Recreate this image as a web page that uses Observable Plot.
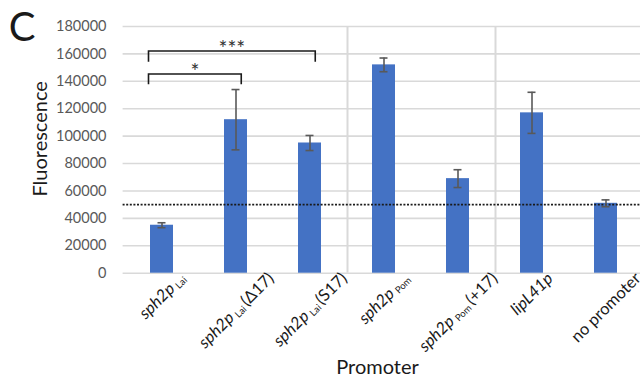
<!DOCTYPE html>
<html><head><meta charset="utf-8">
<script src="https://cdn.jsdelivr.net/npm/d3@7"></script>
<script src="https://cdn.jsdelivr.net/npm/@observablehq/plot@0.6"></script>
<style>
html,body{margin:0;padding:0;background:#fff;overflow:hidden;}
svg{display:block}
</style></head><body>
<div id="chart"></div>
<script>
// ---- data ----
const categories = ["sph2pLai", "sph2pLai (Δ17)", "sph2pLai (S17)", "sph2pPom", "sph2pPom (+17)", "lipL41p", "no promoter"];
// label pieces: [text, style]  (i = italic, sub = subscript, "" = plain)
const labelParts = [
  [["sph2p", "i"], ["Lai", "sub"]],
  [["sph2p", "i"], ["Lai", "sub"], ["(Δ17)", ""]],
  [["sph2p", "i"], ["Lai", "sub"], ["(S17)", ""]],
  [["sph2p", "i"], ["Pom", "sub"]],
  [["sph2p", "i"], ["Pom", "sub"], ["(+17)", ""]],
  [["lipL41p", "i"]],
  [["no promoter", ""]]
];
const means = [35000, 112000, 95000, 152000, 69000, 117000, 51000];
const errors = [1800, 22000, 5500, 5000, 6500, 15000, 2500];
const yTicks = [0, 20000, 40000, 60000, 80000, 100000, 120000, 140000, 160000, 180000];
const threshold = 50000;
const groupBreaks = [[2, 3], [4, 5]];
const bracketFrom = [0, 0];
const bracketTo = [1, 2];
const bracketTop = [145000, 161800];
const bracketEnd = [137500, 154000];
const bracketLabel = ["*", "***"];

const data = categories.map((c, i) => ({cat: c, mean: means[i], err: errors[i]}));
const ns = "http://www.w3.org/2000/svg";

function getBw(sx) {
  let bw = sx.bandwidth;
  if (typeof bw === "function") bw = bw();
  return bw > 0 ? bw : 0;
}

function separators(index, scales, values, dims, context) {
  const doc = context.document;
  const g = doc.createElementNS(ns, "g");
  const sx = scales.x, sy = scales.y, bw = getBw(sx);
  for (const [a, b] of groupBreaks) {
    const x = (sx(categories[a]) + bw + sx(categories[b])) / 2 + 1;
    const l = doc.createElementNS(ns, "line");
    l.setAttribute("x1", x); l.setAttribute("x2", x);
    l.setAttribute("y1", sy(180000)); l.setAttribute("y2", sy(0));
    l.setAttribute("stroke", "#d9d9d9"); l.setAttribute("stroke-width", 2);
    g.append(l);
  }
  return g;
}

function brackets(index, scales, values, dims, context) {
  const doc = context.document;
  const g = doc.createElementNS(ns, "g");
  const sx = scales.x, sy = scales.y, bw = getBw(sx);
  bracketFrom.forEach((f, i) => {
    const x1 = sx(categories[f]) - 1.5;
    const x2 = sx(categories[bracketTo[i]]) + bw * 0.75;
    const yt = sy(bracketTop[i]), ye = sy(bracketEnd[i]);
    const p = doc.createElementNS(ns, "path");
    p.setAttribute("d", `M${x1},${ye}V${yt}H${x2}V${ye}`);
    p.setAttribute("fill", "none"); p.setAttribute("stroke", "#1a1a1a"); p.setAttribute("stroke-width", 1.6);
    g.append(p);
    const t = doc.createElementNS(ns, "text");
    t.setAttribute("x", (x1 + x2) / 2); t.setAttribute("y", yt + 5);
    t.setAttribute("text-anchor", "middle"); t.setAttribute("font-size", 21);
    t.setAttribute("fill", "#333");
    t.textContent = bracketLabel[i];
    g.append(t);
  });
  return g;
}

function xLabels(index, scales, values, dims, context) {
  const doc = context.document;
  const g = doc.createElementNS(ns, "g");
  const sx = scales.x, bw = getBw(sx);
  categories.forEach((c, i) => {
    const t = doc.createElementNS(ns, "text");
    t.setAttribute("class", "xlabel");
    t.setAttribute("data-cx", sx(c) + bw / 2);
    t.setAttribute("font-size", 16.5);
    t.setAttribute("fill", "#1a1a1a");
    labelParts[i].forEach(([s, st], k) => {
      const ts = doc.createElementNS(ns, "tspan");
      if (st === "i") ts.setAttribute("font-style", "italic");
      if (st === "sub") { ts.setAttribute("font-size", 9.5); ts.setAttribute("dy", 2); ts.setAttribute("dx", 3); }
      if (st === "" && k > 0) { ts.setAttribute("dy", -2); ts.setAttribute("dx", 2); }
      ts.textContent = s;
      t.append(ts);
    });
    g.append(t);
  });
  return g;
}

const chart = Plot.plot({
  width: 640, height: 379,
  marginLeft: 122.6, marginRight: -5, marginTop: 26, marginBottom: 106.3,
  style: {fontFamily: "Lato, 'Open Sans', sans-serif", background: "#fff", overflow: "hidden"},
  x: {domain: categories, paddingInner: 0.69, paddingOuter: 0.345, axis: null},
  y: {domain: [0, 180000]},
  marks: [
    Plot.gridY(yTicks, {stroke: "#d9d9d9", strokeOpacity: 1, strokeWidth: 1.6}),
    separators,
    Plot.axisY(yTicks, {tickSize: 0, tickPadding: 16.6, fontSize: 14.5, fill: "#595959", tickFormat: d => String(d), label: null}),
    Plot.barY(data, {x: "cat", y: "mean", fill: "#4472C4"}),
    Plot.ruleY([threshold], {stroke: "#1a1a1a", strokeDasharray: "2,1.6", strokeWidth: 1.8}),
    Plot.ruleX(data, {x: "cat", y1: d => d.mean - d.err, y2: d => d.mean + d.err, stroke: "#595959", strokeWidth: 1.6}),
    Plot.tickY(data, {x: "cat", y: d => d.mean + d.err, stroke: "#595959", strokeWidth: 1.6, insetLeft: 7.5, insetRight: 7.5}),
    Plot.tickY(data, {x: "cat", y: d => d.mean - d.err, stroke: "#595959", strokeWidth: 1.6, insetLeft: 7.5, insetRight: 7.5}),
    brackets,
    xLabels,
    Plot.text(["Fluorescence"], {frameAnchor: "left", rotate: -90, dx: -82.6, dy: -11, textAnchor: "middle", lineAnchor: "middle", fontSize: 20, fill: "#1a1a1a"}),
    Plot.text(["Promoter"], {frameAnchor: "bottom", dx: -6.8, dy: 94.3, textAnchor: "middle", lineAnchor: "middle", fontSize: 20, fill: "#1a1a1a"}),
    Plot.text(["C"], {frameAnchor: "top-left", dx: -101, dy: 1.5, textAnchor: "middle", lineAnchor: "middle", fontSize: 40, fill: "#1a1a1a"})
  ]
});
document.getElementById("chart").append(chart);

// position rotated category labels (centred under each bar, top edge aligned)
const labelTop = 268;
chart.querySelectorAll("text.xlabel").forEach(t => {
  const b = t.getBBox();
  const cx = +t.getAttribute("data-cx");
  const cy = labelTop + 0.3536 * (b.width + b.height);
  const lx = b.x + b.width / 2, ly = b.y + b.height / 2;
  t.setAttribute("transform", `translate(${cx},${cy}) rotate(-45) translate(${-lx},${-ly})`);
});
</script>
</body></html>
